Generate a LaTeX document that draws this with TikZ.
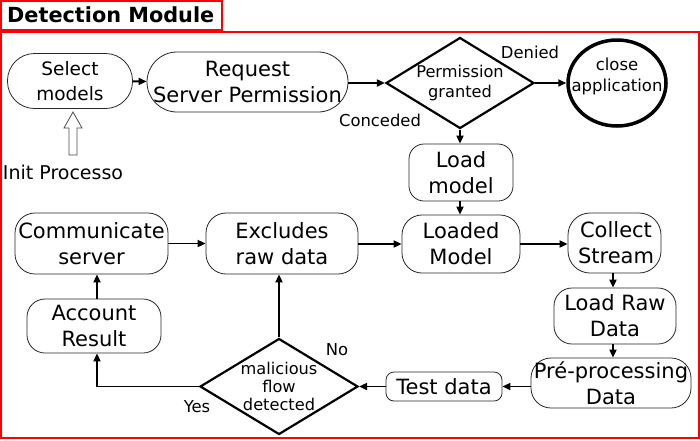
\documentclass[tikz,border=0pt]{standalone}
\usepackage{fontspec}
\setmainfont{DejaVu Sans}
\usetikzlibrary{shapes.geometric,arrows.meta}
\begin{document}
\begin{tikzpicture}[x=1pt,y=-1pt,
  box/.style={draw=black!85, line width=0.8pt, align=center, inner sep=0pt, font=\fontsize{21}{26}\selectfont},
  smallbox/.style={box, font=\fontsize{18.5}{25}\selectfont},
  dia/.style={draw, diamond, line width=2.2pt, align=center, inner sep=-3pt, font=\fontsize{16.2}{18}\selectfont},
  conn/.style={line width=1.8pt, -{Triangle[length=8pt,width=7pt]}},
  lbl/.style={font=\fontsize{16.4}{19}\selectfont, inner sep=0pt},
  frame/.style={draw=red, line width=1.5pt}
]
\useasboundingbox (0,0) rectangle (700,440);
\node[frame, minimum width=221pt, minimum height=29pt, inner sep=0pt] (titlebox) at (111.5,15.5) {};
\draw[frame] (1,32) rectangle (699,438);
\node[anchor=west, font=\bfseries\fontsize{20.8}{24}\selectfont, inner sep=0pt] (title) at (7,15) {Detection Module};

% top row
\node[smallbox, minimum width=125pt, minimum height=55pt, rounded corners=27pt] (sel) at (70,81) {Select\\models};
\node[box, minimum width=201pt, minimum height=60pt, rounded corners=30pt] (req) at (247.5,82) {Request\\Server Permission};
\node[dia, shape aspect=1.63, minimum width=148pt, minimum height=91pt, font=\fontsize{16.2}{20.5}\selectfont] (perm) at (460,83) {Permission\\granted};
\node[draw, ellipse, line width=3.5pt, align=center, inner xsep=-12pt, inner ysep=0pt, minimum width=98pt, minimum height=86pt, text depth=16pt, font=\fontsize{16.5}{21}\selectfont] (close) at (617,83) {close\\application};

% middle
\node[box, minimum width=104pt, minimum height=57pt, rounded corners=15pt] (load) at (461,172.5) {Load\\model};
\node[box, minimum width=118pt, minimum height=58pt, rounded corners=20pt] (loaded) at (461,244) {Loaded\\Model};
\node[box, minimum width=93pt, minimum height=60pt, rounded corners=22pt] (collect) at (614.5,243) {\hspace*{3pt}Collect\\\hspace*{3pt}Stream};
\node[box, minimum width=152pt, minimum height=61pt, rounded corners=20pt] (excl) at (282,243.5) {Excludes\\raw data};
\node[box, minimum width=153pt, minimum height=61pt, rounded corners=20pt] (comm) at (91.5,243.5) {Communicate\\server};

% bottom
\node[box, minimum width=122pt, minimum height=56pt, rounded corners=18pt] (raw) at (615,316) {Load Raw\\Data};
\node[box, minimum width=160pt, minimum height=50pt, rounded corners=20pt] (pre) at (611,383) {Pré-processing\\Data};
\node[box, minimum width=116pt, minimum height=29pt, rounded corners=8pt] (test) at (444,386.5) {Test data};
\node[box, minimum width=134pt, minimum height=54pt, rounded corners=18pt] (acc) at (94,326) {Account\\Result};
\node[dia, shape aspect=1.61, minimum width=158pt, minimum height=96pt] (mal) at (279,386.5) {malicious\\flow\\detected};

% labels
\node[lbl] (denied) at (530,52) {Denied};
\node[lbl] (conceded) at (380,120) {Conceded};
\node[lbl] (no) at (337,350) {No};
\node[lbl] (yes) at (197,407) {Yes};
\node[inner sep=0pt, font=\fontsize{19}{22}\selectfont] (init) at (63,172) {Init Processo};

% hollow init arrow
\draw[draw=black!70, line width=0.8pt, fill=white] (69,155) -- (77,155) -- (77,128) -- (82,128) -- (73,112) -- (64,128) -- (69,128) -- cycle;

% connectors
\draw[conn] (sel) -- (req);
\draw[conn] (req.east |- perm.west) -- (perm.west);
\draw[conn] (perm.east) -- (close.west |- perm.east);
\draw[conn] (perm.south) -- (perm.south |- load.north);
\draw[conn] (load.south -| perm.south) -- (perm.south |- loaded.north);
\draw[conn] (loaded) -- (collect.west |- loaded.east);
\draw[conn] (excl.east |- loaded.west) -- (loaded.west);
\draw[conn] (comm.east) -- (excl.west);
\coordinate (cx) at (613,0);
\draw[conn] (cx |- collect.south) -- (cx |- raw.north);
\draw[conn] (cx |- raw.south) -- (cx |- pre.north);
\draw[conn] (pre.west |- test.east) -- (test.east);
\draw[conn] (test.west) -- (mal.east);
\draw[conn] (mal.north) -- (mal.north |- excl.south);
\coordinate (ax) at (97,0);
\draw[conn] (mal.west) -| (ax |- acc.south);
\draw[conn] (ax |- acc.north) -- (ax |- comm.south);
\end{tikzpicture}
\end{document}
